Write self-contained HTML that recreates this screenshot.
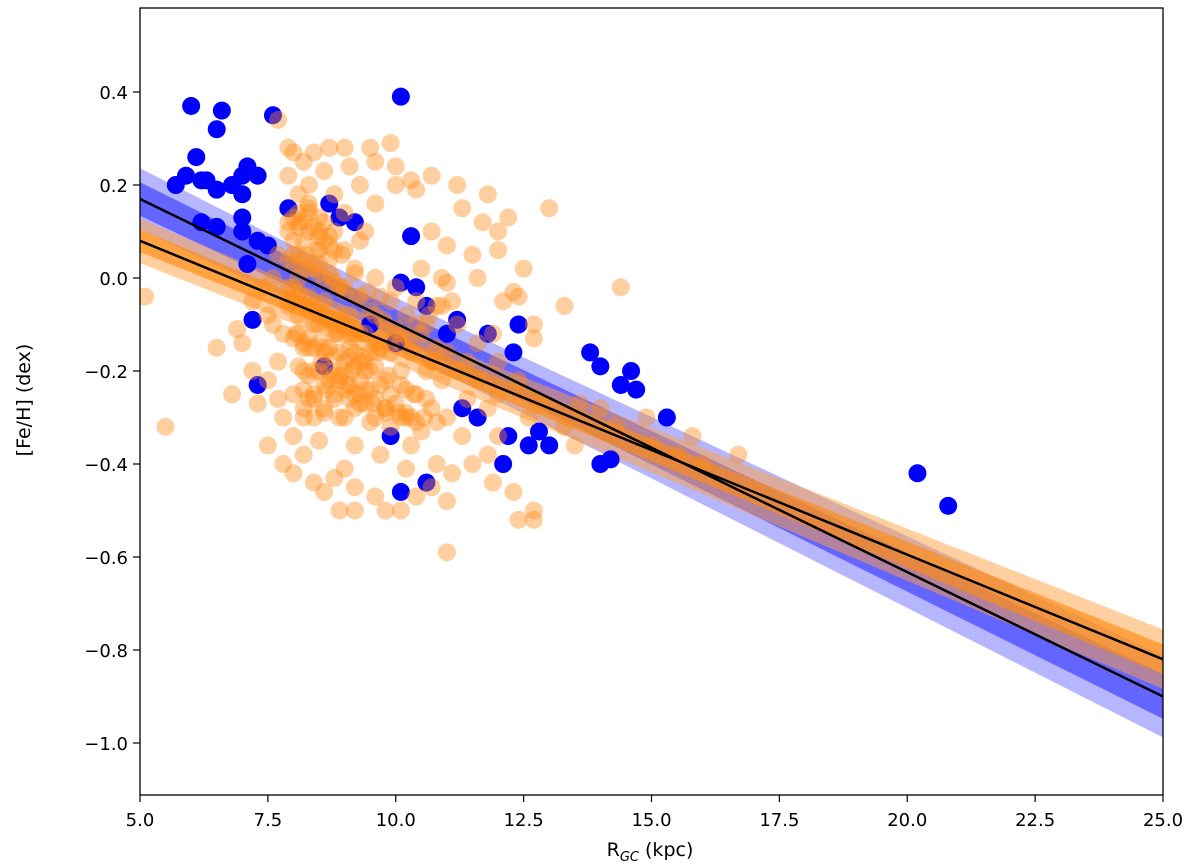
<!DOCTYPE html>
<html><head><meta charset="utf-8"><style>
html,body{margin:0;padding:0;background:#fff;}
svg{display:block;font-family:"DejaVu Sans","Liberation Sans",sans-serif;}
</style></head><body>
<svg id="chart" width="1200" height="868" viewBox="0 0 1200 868" xmlns="http://www.w3.org/2000/svg">
<defs><clipPath id="clip"><rect x="140" y="8" width="1023" height="787"/></clipPath></defs>
<g id="bands" clip-path="url(#clip)"></g>
<g id="pts" clip-path="url(#clip)"></g>
<g id="lines" clip-path="url(#clip)"></g>
<rect x="140" y="8" width="1023" height="787" fill="none" stroke="#000" stroke-width="1.3"/>
<g id="axes"></g>
<text x="650" y="856" font-size="19" text-anchor="middle">R<tspan font-size="13" font-style="italic" dy="5">GC</tspan><tspan dy="-5"> (kpc)</tspan></text>
<text transform="translate(30,400) rotate(-90)" font-size="19" text-anchor="middle">[Fe/H] (dex)</text>
</svg>
<script>
const xTicks=[5,7.5,10,12.5,15,17.5,20,22.5,25];
const yTicks=[0.4,0.2,0.0,-0.2,-0.4,-0.6,-0.8,-1.0];
const blueX=[6.0,6.6,6.5,7.6,10.1,6.1,5.7,5.9,6.2,6.3,6.5,6.8,7.0,7.1,7.3,7.0,6.2,6.5,7.0,7.0,7.3,7.5,7.9,8.7,8.9,9.2,10.3,7.1,7.2,7.3,10.1,10.4,10.6,11.2,11.8,12.4,12.3,11.0,10.0,9.5,8.6,13.8,14.0,14.6,14.4,14.7,15.3,12.2,12.8,13.0,12.1,12.6,14.0,14.2,10.1,10.6,20.2,20.8,9.9,11.6,11.3];
const blueY=[0.37,0.36,0.32,0.35,0.39,0.26,0.20,0.22,0.21,0.21,0.19,0.20,0.22,0.24,0.22,0.18,0.12,0.11,0.13,0.10,0.08,0.07,0.15,0.16,0.13,0.12,0.09,0.03,-0.09,-0.23,-0.01,-0.02,-0.06,-0.09,-0.12,-0.10,-0.16,-0.12,-0.14,-0.10,-0.19,-0.16,-0.19,-0.20,-0.23,-0.24,-0.30,-0.34,-0.33,-0.36,-0.40,-0.36,-0.40,-0.39,-0.46,-0.44,-0.42,-0.49,-0.34,-0.30,-0.28];
const orangeX=[7.7,7.9,8.0,8.2,8.4,8.7,9.0,9.5,9.9,8.6,9.1,9.6,10.0,10.3,10.0,10.4,10.7,11.2,11.8,11.3,11.7,12.0,12.2,13.0,12.0,11.5,11.0,10.7,9.3,9.6,8.3,8.8,7.9,8.1,12.5,12.3,12.4,13.3,12.7,14.4,11.6,11.0,12.1,11.9,12.7,
5.1,5.5,6.5,6.9,7.0,7.2,7.4,7.5,7.7,6.8,7.2,7.3,7.5,7.8,7.5,7.8,8.0,8.2,8.4,8.6,8.8,9.0,9.2,9.6,9.8,9.2,8.9,10.1,10.4,10.7,11.0,11.1,11.5,11.9,12.3,12.4,12.7,12.7,11.0,10.8,10.2,11.8,12.0,12.6,13.3,13.6,14.0,13.5,14.3,15.0,15.5,16.0,16.7,15.8,14.9,
7.9,8.0,8.1,8.2,8.3,8.4,8.5,8.0,8.1,8.3,8.5,8.2,8.4,8.6,8.7,8.8,8.9,9.0,9.1,9.2,9.3,9.4,9.5,9.6,9.7,9.8,9.9,10.0,10.1,10.2,10.3,10.4,10.5,10.6,10.7,10.8,10.9,11.0,11.2,11.4,11.6,11.8,12.0,8.0,8.2,8.6,8.8,9.0,9.3,9.6,9.9,10.2,10.5,7.8,7.7,7.9,8.6,9.0,9.4,8.8,9.2,9.6,10.0,10.4,10.8,11.2,11.6,12.0,12.4,12.8,8.4,8.7,9.1,9.5,9.8,10.1,10.6,11.0,11.4,8.3,8.1,8.5,9.3,10.5,10.9,7.6,7.6,7.7,8.0,8.5,9.2,9.7,10.3,11.3,8.3,8.6,9.0,9.4,8.2,8.9,9.2,9.7,10.2,10.7,
7.9,8.0,8.1,8.2,8.3,8.4,8.5,8.6,8.7,8.8,7.9,8.0,8.1,8.2,8.3,8.4,8.5,8.6,8.7,8.8,8.9,9.0,7.9,8.0,8.1,8.2,8.3,8.4,8.5,8.6,8.7,8.8,8.9,9.0,9.1,9.2,8.0,8.1,8.2,8.3,8.4,8.5,8.6,8.7,8.8,8.9,9.0,9.1,9.2,9.3,9.4,8.1,8.3,8.5,8.7,8.9,9.1,9.3,9.5,9.7,9.9,8.2,8.4,8.6,8.8,9.0,9.2,9.4,9.6,9.8,10.0,10.2,8.6,8.9,9.2,9.5,9.8,10.1,10.4,8.1,8.3,8.5,8.2,8.4,9.0,9.3,9.6,9.9,
8.0,8.25,8.5,8.75,9.0,9.25,9.5,9.75,10.0,10.25,8.1,8.35,8.6,8.85,9.1,9.35,9.6,9.85,10.1,10.35,10.6,8.05,8.3,8.55,8.8,9.05,9.3,9.55,9.8,10.05,10.3,10.55,10.8,8.4,8.65,8.9,9.15,9.4,9.65,9.9,10.15,10.4,10.65,10.9,11.1,7.9,8.15,8.45,8.7,8.95,9.2,9.45];
const orangeY=[0.34,0.28,0.27,0.25,0.27,0.28,0.28,0.28,0.29,0.23,0.24,0.25,0.24,0.21,0.20,0.19,0.22,0.20,0.18,0.15,0.12,0.10,0.13,0.15,0.06,0.05,0.07,0.10,0.20,0.16,0.20,0.18,0.22,0.18,0.02,-0.03,-0.04,-0.06,-0.10,-0.02,0.00,-0.01,-0.05,-0.12,-0.13,
-0.04,-0.32,-0.15,-0.11,-0.14,-0.05,-0.02,-0.08,0.05,-0.25,-0.20,-0.27,-0.36,-0.30,-0.22,-0.40,-0.42,-0.38,-0.44,-0.46,-0.43,-0.41,-0.45,-0.47,-0.50,-0.50,-0.50,-0.50,-0.47,-0.45,-0.48,-0.42,-0.40,-0.44,-0.46,-0.52,-0.50,-0.52,-0.59,-0.40,-0.41,-0.38,-0.34,-0.30,-0.32,-0.27,-0.28,-0.36,-0.32,-0.36,-0.38,-0.40,-0.38,-0.34,-0.30,
0.10,0.05,0.12,0.08,0.14,0.02,0.10,-0.02,-0.08,-0.04,-0.10,-0.15,-0.20,-0.05,0.04,-0.12,-0.02,0.06,-0.08,-0.16,-0.04,-0.12,-0.20,-0.08,-0.15,-0.22,-0.05,-0.12,-0.20,-0.08,-0.16,-0.25,-0.12,-0.20,-0.28,-0.15,-0.22,-0.30,-0.20,-0.26,-0.22,-0.28,-0.25,-0.25,-0.30,-0.28,-0.25,-0.30,-0.27,-0.30,-0.32,-0.30,-0.33,-0.12,-0.18,-0.05,-0.15,-0.20,-0.24,0.10,0.02,0.00,-0.02,-0.05,-0.06,-0.10,-0.14,-0.18,-0.22,-0.27,-0.10,-0.20,-0.26,-0.16,-0.10,-0.14,-0.10,-0.16,-0.18,-0.26,0.00,0.06,0.08,0.02,0.00,0.00,-0.10,-0.26,-0.34,-0.35,-0.36,-0.38,-0.36,-0.34,0.16,0.12,0.14,0.10,-0.20,-0.08,-0.12,-0.04,-0.24,-0.18,
0.12,0.13,0.11,0.12,0.10,0.11,0.09,0.08,0.07,0.06,0.04,0.03,0.05,0.04,0.02,0.03,0.01,0.00,0.01,-0.01,-0.02,-0.03,-0.06,-0.05,-0.04,-0.06,-0.07,-0.06,-0.08,-0.07,-0.09,-0.10,-0.09,-0.11,-0.12,-0.11,-0.13,-0.12,-0.14,-0.13,-0.15,-0.14,-0.16,-0.15,-0.17,-0.16,-0.18,-0.17,-0.19,-0.18,-0.20,-0.19,-0.21,-0.20,-0.22,-0.21,-0.23,-0.22,-0.24,-0.23,-0.25,-0.24,-0.25,-0.23,-0.26,-0.24,-0.25,-0.27,-0.26,-0.28,-0.27,-0.29,-0.29,-0.30,-0.28,-0.31,-0.29,-0.30,-0.31,0.14,0.15,0.13,-0.28,-0.30,-0.10,-0.12,-0.14,-0.16,
0.08,0.05,0.03,0.00,-0.02,-0.04,-0.07,-0.09,-0.11,-0.13,-0.03,-0.06,-0.09,-0.12,-0.15,-0.17,-0.19,-0.21,-0.23,-0.25,-0.26,-0.12,-0.15,-0.18,-0.21,-0.23,-0.25,-0.27,-0.28,-0.29,-0.30,-0.30,-0.31,-0.26,-0.24,-0.22,-0.20,-0.18,-0.16,-0.14,-0.12,-0.10,-0.08,-0.06,-0.05,-0.02,0.02,0.06,0.09,0.05,0.01,-0.03];
const blueFit=[0.17,-0.90];   // y at x=5 and x=25
const orangeFit=[0.08,-0.82];
const blueBand=[0.03,0.055];  // inner, outer half-widths at center
const orangeBand=[0.02,0.04];

const NS="http://www.w3.org/2000/svg";
const X=v=>140+(v-5)*(1023/20);
const Y=v=>278-v*465;
const $=id=>document.getElementById(id);
function mk(tag,attrs,parent){const e=document.createElementNS(NS,tag);for(const k in attrs)e.setAttribute(k,attrs[k]);parent.appendChild(e);return e;}
const axes=$('axes');
xTicks.forEach(t=>{
  const l=mk('line',{x1:X(t),x2:X(t),y1:795,y2:802,stroke:'#000','stroke-width':1.2},axes);
  
  
  const tx=mk('text',{x:X(t),y:826,'font-size':18,'text-anchor':'middle'},axes);
  tx.textContent=t.toFixed(1);
  
  
});
yTicks.forEach(t=>{
  const l=mk('line',{x1:133,x2:140,y1:Y(t),y2:Y(t),stroke:'#000','stroke-width':1.2},axes);
  
  
  const tx=mk('text',{x:128,y:Y(t)+7,'font-size':18,'text-anchor':'end'},axes);
  tx.textContent=(t<0?'\u2212':'')+Math.abs(t).toFixed(1);
  
  
});
function fy(fit,x){return fit[0]+(fit[1]-fit[0])*(x-5)/20;}
function band(fit,hw,color,op,name){
  const xs=[];for(let x=5;x<=25.001;x+=0.5)xs.push(x);
  const w=x=>hw*(1+Math.abs(x-10)/25);
  let d='M'+xs.map(x=>X(x)+','+Y(fy(fit,x)+w(x))).join('L')+'L'+xs.slice().reverse().map(x=>X(x)+','+Y(fy(fit,x)-w(x))).join('L')+'Z';
  const p=mk('path',{d:d,fill:color,'fill-opacity':op},$('bands'));
  
  
}
band(blueFit,blueBand[1],'#4848ff',0.4,'blue-outer-band');
band(blueFit,blueBand[0],'#2020ff',0.55,'blue-inner-band');
band(orangeFit,orangeBand[1],'#ffa040',0.5,'orange-outer-band');
band(orangeFit,orangeBand[0],'#ff8a10',0.65,'orange-inner-band');
blueX.forEach((x,i)=>{
  const c=mk('circle',{cx:X(x),cy:Y(blueY[i]),r:9,fill:'#0000ff'},$('pts'));
  
  
});
orangeX.forEach((x,i)=>{
  const c=mk('circle',{cx:X(x),cy:Y(orangeY[i]),r:9,fill:'#ff8c1a','fill-opacity':0.42},$('pts'));
  
  
});
[[blueFit,'blue-fit-line'],[orangeFit,'orange-fit-line']].forEach(([f,n])=>{
  const l=mk('line',{x1:X(5),y1:Y(f[0]),x2:X(25),y2:Y(f[1]),stroke:'#000','stroke-width':2.5},$('lines'));
  
  
});
</script>
</body></html>
